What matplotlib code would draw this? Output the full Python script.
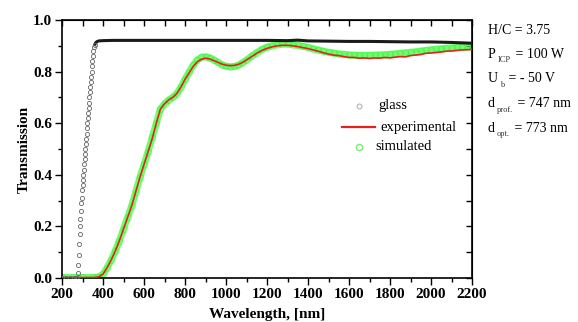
import matplotlib
matplotlib.use("Agg")
import matplotlib.pyplot as plt
from matplotlib.ticker import MultipleLocator, FormatStrFormatter
from matplotlib.transforms import offset_copy

plt.rcParams["font.family"] = ["Liberation Serif", "DejaVu Serif"]

# bare glass substrate
glass_wl = [200, 220, 240, 260, 270, 275, 278, 280, 282, 284, 286, 288, 290, 292, 294,
            296, 298, 300, 302, 304, 306, 308, 310, 312, 314, 316, 318, 320, 322, 324,
            326, 328, 330, 332, 334, 336, 338, 340, 342, 344, 346, 348, 350, 353, 356,
            360, 365, 370, 380, 400, 450, 500, 600, 700, 800, 900, 1000, 1100, 1200,
            1300, 1350, 1400, 1500, 1600, 1700, 1800, 1900, 2000, 2100, 2200]
glass_t = [0.0, 0.0, 0.0, 0.0, 0.0, 0.0, 0.02, 0.05, 0.09, 0.13, 0.17, 0.20, 0.23, 0.26,
           0.29, 0.31, 0.34, 0.36, 0.38, 0.40, 0.42, 0.44, 0.46, 0.48, 0.50, 0.52, 0.54,
           0.56, 0.58, 0.60, 0.62, 0.64, 0.66, 0.68, 0.70, 0.72, 0.74, 0.76, 0.78, 0.80,
           0.82, 0.84, 0.86, 0.88, 0.895, 0.905, 0.912, 0.916, 0.919, 0.92, 0.921, 0.921,
           0.921, 0.921, 0.921, 0.921, 0.921, 0.921, 0.921, 0.92, 0.922, 0.919, 0.918,
           0.917, 0.917, 0.916, 0.915, 0.915, 0.913, 0.91]

# film: measured and fitted spectra
film_wl = [200, 250, 300, 350, 370, 380, 400, 420, 440, 460, 480, 500, 520, 540, 560,
           580, 600, 620, 640, 660, 680, 700, 720, 740, 760, 780, 800, 820, 840, 860,
           880, 900, 920, 940, 960, 980, 1000, 1020, 1040, 1060, 1080, 1100, 1125, 1150,
           1175, 1200, 1225, 1250, 1275, 1300, 1325, 1350, 1375, 1400, 1425, 1450, 1475,
           1500, 1525, 1550, 1575, 1600, 1625, 1650, 1675, 1700, 1725, 1750, 1775, 1800,
           1825, 1850, 1875, 1900, 1925, 1950, 1975, 2000, 2025, 2050, 2075, 2100, 2125,
           2150, 2175, 2200]
exp_t = [0.002, 0.002, 0.002, 0.002, 0.003, 0.005, 0.015, 0.04, 0.07, 0.105, 0.145,
         0.19, 0.235, 0.28, 0.335, 0.39, 0.44, 0.49, 0.54, 0.60, 0.655, 0.675, 0.69, 0.70,
         0.715, 0.74, 0.77, 0.795, 0.82, 0.838, 0.848, 0.852, 0.849, 0.843, 0.836, 0.829,
         0.825, 0.823, 0.824, 0.828, 0.835, 0.845, 0.858, 0.871, 0.882, 0.89, 0.896, 0.9,
         0.902, 0.902, 0.9, 0.897, 0.893, 0.889, 0.884, 0.879, 0.873, 0.868, 0.864, 0.862,
         0.858, 0.855, 0.855, 0.852, 0.853, 0.851, 0.853, 0.852, 0.855, 0.853, 0.856,
         0.858, 0.857, 0.862, 0.864, 0.866, 0.871, 0.872, 0.874, 0.876, 0.879, 0.88,
         0.882, 0.884, 0.885, 0.886]
sim_t = [0.002, 0.002, 0.002, 0.002, 0.003, 0.005, 0.015, 0.04, 0.07, 0.105, 0.145,
         0.19, 0.235, 0.28, 0.335, 0.39, 0.44, 0.49, 0.545, 0.60, 0.655, 0.675, 0.69,
         0.70, 0.715, 0.74, 0.77, 0.798, 0.825, 0.845, 0.856, 0.858, 0.854, 0.846, 0.836,
         0.827, 0.821, 0.819, 0.82, 0.825, 0.834, 0.845, 0.86, 0.874, 0.886, 0.895,
         0.901, 0.905, 0.907, 0.907, 0.905, 0.902, 0.898, 0.894, 0.889, 0.884, 0.879,
         0.875, 0.872, 0.869, 0.867, 0.865, 0.864, 0.863, 0.863, 0.863, 0.864, 0.865,
         0.866, 0.867, 0.869, 0.871, 0.873, 0.875, 0.877, 0.88, 0.882, 0.885, 0.887,
         0.889, 0.891, 0.892, 0.894, 0.895, 0.896, 0.897]

# deposition parameters: (symbol, subscript, rest)
params = [("H/C = 3.75", "", ""),
          ("P", "ICP", " = 100 W"),
          ("U", "b", " = - 50 V"),
          ("d", "prof.", " = 747 nm"),
          ("d", "opt.", " = 773 nm")]

RED = "#e3231b"
LIME = "#3cff3c"

fig = plt.figure(figsize=(5.78, 3.22), dpi=100, facecolor="white")
ax = fig.add_axes([62 / 578, 44 / 322, 410 / 578, 258 / 322])

ax.plot(film_wl, sim_t, "-", color=LIME, lw=5, alpha=0.75, solid_capstyle="round", zorder=2)
ax.plot(film_wl, sim_t, "o", mfc="none", mec="#22dd22", ms=4.5, mew=0.7, alpha=0.3, zorder=2)
ax.plot(film_wl, exp_t, "-", color=RED, lw=1.2, zorder=3)

# glass: dense circles through the edge, plateau reads as a dark band
knee = glass_wl.index(360)
ax.plot(glass_wl[knee:], glass_t[knee:], "-", color="#1a1a1a", lw=2.2, zorder=4)
ax.plot(glass_wl[:knee + 1], glass_t[:knee + 1], "o", mfc="none", mec="#666666",
        ms=3.0, mew=0.6, zorder=4)

ax.set_xlim(200, 2200)
ax.set_ylim(0, 1.0)
ax.xaxis.set_major_locator(MultipleLocator(200))
ax.xaxis.set_minor_locator(MultipleLocator(100))
ax.yaxis.set_major_locator(MultipleLocator(0.2))
ax.yaxis.set_minor_locator(MultipleLocator(0.1))
ax.yaxis.set_major_formatter(FormatStrFormatter("%.1f"))
ax.tick_params(which="both", direction="out", top=False, right=False, width=1.0)
ax.tick_params(which="major", length=5, labelsize=11, pad=2)
ax.tick_params(which="minor", length=3)
for lbl in ax.get_xticklabels() + ax.get_yticklabels():
    lbl.set_fontweight("bold")
for spine in ax.spines.values():
    spine.set_linewidth(1.2)

# inward ticks on the top and right edges
top = ax.secondary_xaxis("top")
top.xaxis.set_major_locator(MultipleLocator(100))
top.tick_params(direction="in", length=4, labeltop=False, width=1.0)
right = ax.secondary_yaxis("right")
right.yaxis.set_major_locator(MultipleLocator(0.1))
right.tick_params(direction="in", length=4, labelright=False, width=1.0)

ax.set_xlabel("Wavelength, [nm]", fontsize=11, fontweight="bold", labelpad=5)
ax.set_ylabel("Transmission", fontsize=11, fontweight="bold", labelpad=1.5)

# legend drawn by hand
tr = ax.transAxes
def ax_xy(px, py):
    return ((px - 62) / 410, (278 - py) / 258)

x0, y0 = ax_xy(359, 106)
ax.plot([x0], [y0], "o", mfc="none", mec="#aaaaaa", ms=3.5, mew=0.7, transform=tr, clip_on=False)
ax.text(*ax_xy(378, 106), "glass", transform=tr, fontsize=10.5, va="center")
xa, ya = ax_xy(342, 127)
xb, _ = ax_xy(375, 127)
ax.plot([xa, xb], [ya, ya], color=RED, lw=1.6, transform=tr, clip_on=False)
ax.text(*ax_xy(380, 127), "experimental", transform=tr, fontsize=10.5, va="center")
x0, y0 = ax_xy(359, 147)
ax.plot([x0], [y0], "o", mfc="none", mec="#77ee77", ms=4.5, mew=1.0, transform=tr, clip_on=False)
ax.text(*ax_xy(375, 147), "simulated", transform=tr, fontsize=10.5, va="center")

# parameter block with small, low-set subscripts
renderer = fig.canvas.get_renderer()
for i, (sym, sub, rest) in enumerate(params):
    y = 1 - (30 + i * 24.5) / 322
    t = fig.text(488 / 578, y, sym, fontsize=10, va="center", ha="left")
    if not sub:
        continue
    w = t.get_window_extent(renderer).width
    s = fig.text(488 / 578, y, sub, fontsize=6, va="center", ha="left", color="#333333",
                 transform=offset_copy(fig.transFigure, fig=fig, x=w + 2.0, y=-6, units="dots"))
    ws = s.get_window_extent(renderer).width
    fig.text(488 / 578, y, rest, fontsize=10, va="center", ha="left",
             transform=offset_copy(fig.transFigure, fig=fig, x=w + ws + 3, y=0, units="dots"))

fig.savefig("out.png", dpi=100, facecolor="white")
